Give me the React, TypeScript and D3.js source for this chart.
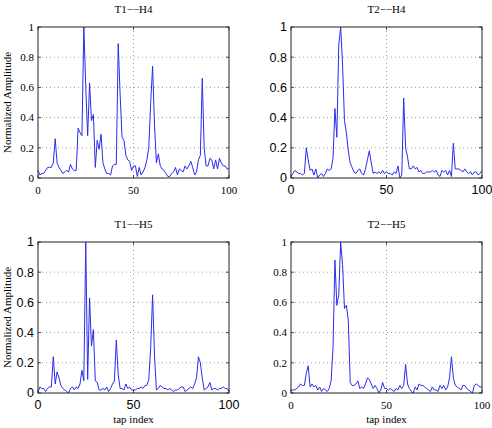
import * as d3 from 'd3';

// normalized tap amplitudes, index 0..100
const t1h4 = [
  0.05, 0.02, 0.03, 0.03, 0.05, 0.07, 0.07, 0.07, 0.1, 0.26,
  0.1, 0.07, 0.05, 0.03, 0.04, 0.05, 0.04, 0.09, 0.06, 0.05,
  0.05, 0.33, 0.3, 0.28, 1.0, 0.6, 0.28, 0.63, 0.38, 0.42,
  0.07, 0.25, 0.19, 0.29, 0.1, 0.06, 0.03, 0.03, 0.02, 0.08,
  0.09, 0.09, 0.89, 0.55, 0.27, 0.25, 0.15, 0.12, 0.11, 0.05,
  0.08, 0.08, 0.01, 0.07, 0.02, 0.04, 0.07, 0.12, 0.2, 0.5,
  0.74, 0.35, 0.1, 0.16, 0.08, 0.06, 0.05, 0.03, 0.01, 0.01,
  0.03, 0.04, 0.07, 0.02, 0.06, 0.05, 0.04, 0.08, 0.06, 0.08,
  0.11, 0.07, 0.02, 0.04, 0.12, 0.15, 0.66, 0.2, 0.08, 0.08,
  0.13, 0.12, 0.06, 0.12, 0.06, 0.13, 0.1, 0.08, 0.08, 0.06,
  0.06,
];

const t2h4 = [
  0.01, 0.03, 0.05, 0.04, 0.03, 0.03, 0.02, 0.03, 0.2, 0.12,
  0.05, 0.06, 0.02, 0.06, 0.0, 0.02, 0.03, 0.01, 0.03, 0.06,
  0.05, 0.06, 0.13, 0.46, 0.27, 0.88, 1.0, 0.75, 0.38, 0.3,
  0.18, 0.1, 0.07, 0.04, 0.03, 0.05, 0.06, 0.03, 0.02, 0.06,
  0.12, 0.18, 0.1, 0.03, 0.04, 0.03, 0.04, 0.03, 0.05, 0.03,
  0.04, 0.03, 0.03, 0.02, 0.04, 0.03, 0.08, 0.0, 0.02, 0.53,
  0.2, 0.14, 0.06, 0.06, 0.08, 0.06, 0.07, 0.04, 0.05, 0.03,
  0.03, 0.04, 0.04, 0.04, 0.05, 0.04, 0.05, 0.02, 0.01, 0.05,
  0.04, 0.05, 0.02, 0.05, 0.01, 0.23, 0.06, 0.06, 0.06, 0.05,
  0.04, 0.06, 0.04, 0.03, 0.04, 0.02, 0.04, 0.04, 0.02, 0.03,
  0.05,
];

const t1h5 = [
  0.01, 0.04, 0.03, 0.03, 0.01, 0.03, 0.04, 0.04, 0.24, 0.06,
  0.14, 0.1, 0.05, 0.03, 0.02, 0.01, 0.0, 0.03, 0.04, 0.02,
  0.04, 0.03, 0.06, 0.15, 0.08, 1.0, 0.09, 0.63, 0.31, 0.42,
  0.08, 0.07, 0.02, 0.02, 0.03, 0.02, 0.04, 0.01, 0.03, 0.06,
  0.08, 0.35, 0.12, 0.03, 0.03, 0.02, 0.06, 0.03, 0.04, 0.02,
  0.02, 0.02, 0.03, 0.03, 0.04, 0.03, 0.05, 0.05, 0.09, 0.3,
  0.65, 0.25, 0.02, 0.03, 0.05, 0.04, 0.03, 0.03, 0.02, 0.03,
  0.02, 0.01, 0.02, 0.02, 0.03, 0.04, 0.04, 0.01, 0.02, 0.03,
  0.04, 0.03, 0.06, 0.1, 0.24, 0.2, 0.1, 0.02, 0.03, 0.04,
  0.07, 0.02, 0.03, 0.03, 0.02, 0.03, 0.03, 0.04, 0.03, 0.03,
  0.01,
];

const t2h5 = [
  0.02, 0.02, 0.02, 0.03, 0.04, 0.06, 0.05, 0.05, 0.13, 0.18,
  0.04, 0.06, 0.04, 0.05, 0.02, 0.04, 0.01, 0.03, 0.02, 0.01,
  0.03, 0.08, 0.3, 0.88, 0.58, 0.65, 1.0, 0.85, 0.56, 0.58,
  0.48, 0.07, 0.05, 0.05, 0.06, 0.08, 0.03, 0.04, 0.03, 0.06,
  0.1, 0.09, 0.06, 0.03, 0.05, 0.03, 0.0, 0.02, 0.07, 0.03,
  0.03, 0.02, 0.03, 0.02, 0.01, 0.03, 0.02, 0.05, 0.03, 0.05,
  0.19, 0.06, 0.03, 0.01, 0.0, 0.04, 0.02, 0.06, 0.05, 0.05,
  0.04, 0.03, 0.02, 0.01, 0.04, 0.02, 0.02, 0.01, 0.05, 0.03,
  0.05, 0.02, 0.04, 0.1, 0.24, 0.1, 0.05, 0.04, 0.03, 0.02,
  0.05, 0.05, 0.03, 0.02, 0.01, 0.0, 0.05, 0.06, 0.05, 0.04,
  0.04,
];

const xTicks = [0, 50, 100];
const yTicks = [0, 0.2, 0.4, 0.6, 0.8, 1];
const yTickLabels = ['0', '0.2', '0.4', '0.6', '0.8', '1'];

const SERIF = '"Liberation Serif", "Times New Roman", serif';
const SANS = '"Liberation Sans", Arial, sans-serif';

const panels = [
  { title: 'T1\u2212\u2212H4', data: t1h4, left: 38, top: 27, tickFont: SERIF, tickSize: 11, ylabel: true, xlabel: false },
  { title: 'T2\u2212\u2212H4', data: t2h4, left: 291, top: 27, tickFont: SANS, tickSize: 12.5, ylabel: false, xlabel: false },
  { title: 'T1\u2212\u2212H5', data: t1h5, left: 38, top: 242, tickFont: SANS, tickSize: 12.5, ylabel: true, xlabel: true },
  { title: 'T2\u2212\u2212H5', data: t2h5, left: 291, top: 242, tickFont: SERIF, tickSize: 11, ylabel: false, xlabel: true },
];

const W = 191;
const H = 151;

function Panel({ p }: { p: typeof panels[number] }) {
  const x = d3.scaleLinear().domain([0, 100]).range([0, W]);
  const y = d3.scaleLinear().domain([0, 1]).range([H, 0]);
  const line = d3.line<number>().x((_, i) => x(i)).y((d) => y(d));
  const tl = 3;

  return (
    <g transform={`translate(${p.left},${p.top})`}>
      <rect x={0} y={0} width={W} height={H} fill="#fff" />
      {/* dotted grid */}
      {yTicks.slice(1, -1).map((t) => (
        <line key={'gy' + t} x1={0} x2={W} y1={y(t)} y2={y(t)} stroke="#888" strokeWidth={0.8} strokeDasharray="1,3" />
      ))}
      {xTicks.slice(1, -1).map((t) => (
        <line key={'gx' + t} x1={x(t)} x2={x(t)} y1={0} y2={H} stroke="#888" strokeWidth={0.8} strokeDasharray="1,3" />
      ))}
      <path d={line(p.data) ?? ''} fill="none" stroke="#2b2bee" strokeWidth={1} strokeLinejoin="round" />
      {/* inward ticks on every side */}
      {yTicks.map((t) => (
        <g key={'ty' + t}>
          <line x1={0} x2={tl} y1={y(t)} y2={y(t)} stroke="#222" strokeWidth={0.8} />
          <line x1={W - tl} x2={W} y1={y(t)} y2={y(t)} stroke="#222" strokeWidth={0.8} />
        </g>
      ))}
      {xTicks.map((t) => (
        <g key={'tx' + t}>
          <line x1={x(t)} x2={x(t)} y1={H} y2={H - tl} stroke="#222" strokeWidth={0.8} />
          <line x1={x(t)} x2={x(t)} y1={0} y2={tl} stroke="#222" strokeWidth={0.8} />
        </g>
      ))}
      <rect x={0} y={0} width={W} height={H} fill="none" stroke="#222" strokeWidth={1} />
      {yTicks.map((t, i) => (
        <text key={'ly' + t} x={-4} y={y(t)} dy="0.35em" textAnchor="end" fontFamily={p.tickFont} fontSize={p.tickSize} fill="#000">
          {yTickLabels[i]}
        </text>
      ))}
      {xTicks.map((t) => (
        <text key={'lx' + t} x={x(t)} y={H + 16} textAnchor="middle" fontFamily={p.tickFont} fontSize={p.tickSize} fill="#000">
          {t}
        </text>
      ))}
      <text x={W / 2} y={-14} textAnchor="middle" fontFamily={SERIF} fontSize={11} fill="#000">
        {p.title}
      </text>
      {p.ylabel && (
        <text transform={`translate(${-27},${H / 2}) rotate(-90)`} textAnchor="middle" fontFamily={SERIF} fontSize={11} fill="#000">
          Normalized Amplitude
        </text>
      )}
      {p.xlabel && (
        <text x={W / 2} y={H + 30} textAnchor="middle" fontFamily={SERIF} fontSize={11} fill="#000">
          tap index
        </text>
      )}
    </g>
  );
}

export default function App() {
  return (
    <svg width={492} height={428} style={{ position: 'absolute', left: 0, top: 0 }}>
      <rect width={492} height={428} fill="#fff" />
      {panels.map((p) => (
        <Panel key={p.title} p={p} />
      ))}
    </svg>
  );
}
